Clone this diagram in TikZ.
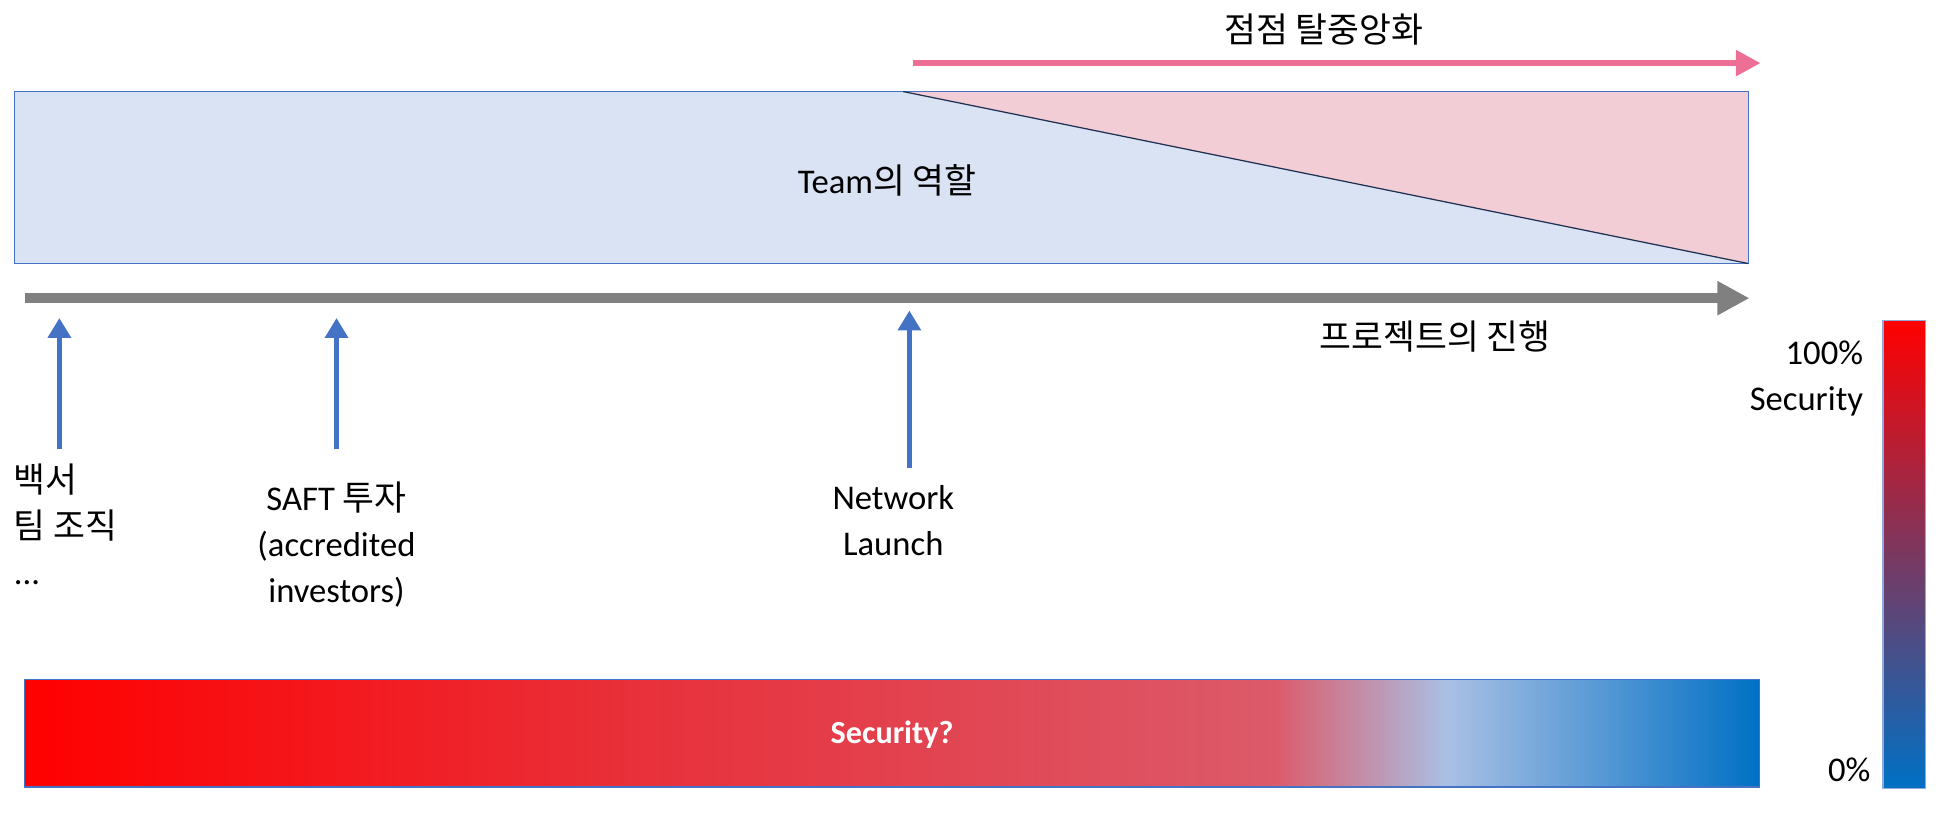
\documentclass[tikz,border=0pt]{standalone}
\usepackage{fontspec}
\setmainfont{Carlito}
\newfontfamily\kr{Noto Sans CJK KR}
\usetikzlibrary{arrows.meta}
\definecolor{lblue}{HTML}{DAE3F3}
\definecolor{lpink}{HTML}{F3CDD5}
\definecolor{bord}{HTML}{4472C4}
\definecolor{pinkar}{HTML}{EE6F96}
\definecolor{s1}{HTML}{FF0000}
\definecolor{s2}{HTML}{E8303A}
\definecolor{s3}{HTML}{DC5A6A}
\definecolor{s4}{HTML}{A9C0E4}
\definecolor{s5}{HTML}{0070C4}
\definecolor{vm}{HTML}{7A3860}
\pgfdeclarehorizontalshading{barshade}{100bp}{color(0bp)=(s1); color(25bp)=(s1); color(42.5bp)=(s2); color(61bp)=(s3); color(66bp)=(s4); color(75bp)=(s5); color(100bp)=(s5)}
\pgfdeclareverticalshading{vbar}{100bp}{color(0bp)=(s5); color(25bp)=(s5); color(50bp)=(vm); color(75bp)=(s1); color(100bp)=(s1)}
\begin{document}
\begin{tikzpicture}[x=1pt,y=-1pt,
  txt/.style={font=\fontsize{28}{37}\selectfont, inner sep=0pt},
  upar/.style={draw=bord, line width=4.5pt, -{Triangle[length=16pt,width=18pt]}}]
\useasboundingbox (0,0) rectangle (1568,664);
% top box
\fill[lblue] (12,74) rectangle (1413,213);
\fill[lpink] (730,74) -- (1413,74) -- (1413,213) -- cycle;
\draw[bord, line width=1pt] (12,74) rectangle (1413,213);
\draw[black!40!bord!70!black, line width=1pt] (730,74) -- (1413,213);
\node[txt] (team) at (717,146) {Team{\kr 의 역할}};
% decentralisation arrow
\coordinate (pa) at (738,51); \coordinate (pb) at (1423,51);
\draw[pinkar, line width=5pt, -{Triangle[length=20pt,width=20pt]}] (pa) -- (pb);
\node[txt] (dec) at (1070,24) {\kr 점점 탈중앙화};
% timeline
\coordinate (ta) at (20,241); \coordinate (tb) at (1414,241);
\draw[gray, line width=8pt, -{Triangle[length=26pt,width=26pt]}] (ta) -- (tb);
\node[txt] (prog) at (1160,272) {\kr 프로젝트의 진행};
% up arrows
\coordinate (a1) at (48,363); \coordinate (a1t) at (48,257);
\coordinate (a2) at (272,363); \coordinate (a2t) at (272,257);
\coordinate (a3) at (735,378); \coordinate (a3t) at (735,251);
\draw[upar] (a1) -- (a1t);
\draw[upar] (a2) -- (a2t);
\draw[upar] (a3) -- (a3t);
\node[txt, anchor=north west, align=left] (w) at (11,375) {{\kr 백서}\\{\kr 팀 조직}\\...};
\node[txt, align=center] (saft) at (272,440) {SAFT {\kr 투자}\\(accredited\\investors)};
\node[txt, align=center] (net) at (722,421) {Network\\Launch};
% bottom bar
\path[shading=barshade, shading angle=0] (20,549) rectangle (1422,636);
\draw[bord, line width=1pt] (20,549) rectangle (1422,636);
\node[txt, text=white, font=\fontsize{26}{30}\selectfont\bfseries] (sec) at (721,594) {Security?};
% right bar
\path[shading=vbar] (1522,259) rectangle (1556,637);
\draw[bord!60, line width=1pt] (1522,259) rectangle (1556,637);
\node[txt, anchor=east, align=right] (p100) at (1506,306) {100\%\\Security};
\node[txt, anchor=east] (p0) at (1512,622) {0\%};
\end{tikzpicture}
\end{document}
